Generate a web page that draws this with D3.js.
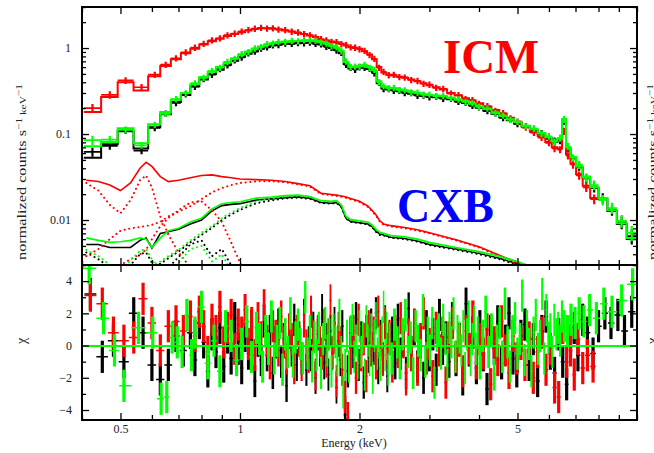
<!DOCTYPE html>
<html>
<head>
<meta charset="utf-8">
<script src="https://cdn.jsdelivr.net/npm/d3@7"></script>
<style>
  body { margin: 0; background: #fff; }
  svg { display: block; }
  text { font-family: "Liberation Serif", "Times New Roman", serif; }
</style>
</head>
<body>
<svg id="chart" width="654" height="453"></svg>
<script>
// ---- spectrum bins (keV) and counts ----
var specE = [0.425,0.47,0.515,0.565,0.61,0.65,0.69,0.73,0.77,0.81,
  0.85,0.89,0.93,0.97,1.01,1.05,1.09,1.13,1.17,1.21,
  1.25,1.30,1.35,1.40,1.45,1.50,1.55,1.60,1.65,1.70,
  1.75,1.80,1.85,1.90,1.95,2.00,2.06,2.12,2.18,2.24,
  2.30,2.37,2.44,2.52,2.60,2.70,2.80,2.90,3.00,3.12,
  3.25,3.40,3.55,3.70,3.85,4.00,4.20,4.40,4.60,4.80,
  5.00,5.25,5.50,5.75,6.00,6.20,6.40,6.55,6.70,6.90,
  7.15,7.45,7.80,8.20,8.65,9.15,9.70];

var blackModel = [0.053,0.076,0.108,0.068,0.12,0.17,0.235,0.285,0.36,0.43,
  0.50,0.56,0.64,0.71,0.79,0.86,0.92,0.98,1.03,1.07,
  1.10,1.12,1.13,1.14,1.15,1.15,1.13,1.10,1.05,1.00,
  0.95,0.87,0.65,0.58,0.57,0.59,0.60,0.57,0.52,0.39,
  0.34,0.33,0.325,0.315,0.305,0.295,0.285,0.277,0.272,0.267,
  0.262,0.253,0.24,0.23,0.216,0.202,0.188,0.172,0.157,0.145,
  0.133,0.122,0.111,0.10,0.09,0.081,0.086,0.145,0.068,0.053,
  0.041,0.031,0.0235,0.0175,0.0127,0.009,0.006];
var blackData = [0.062,0.073,0.111,0.064,0.118,0.173,0.23,0.29,0.355,0.437,
  0.49,0.57,0.63,0.72,0.78,0.87,0.91,0.99,1.02,1.08,
  1.09,1.13,1.12,1.15,1.14,1.16,1.12,1.11,1.04,1.01,
  0.94,0.88,0.64,0.59,0.56,0.60,0.59,0.58,0.51,0.395,
  0.335,0.335,0.32,0.32,0.30,0.30,0.28,0.281,0.268,0.271,
  0.258,0.257,0.237,0.233,0.213,0.205,0.185,0.175,0.154,0.148,
  0.131,0.124,0.109,0.102,0.088,0.083,0.084,0.142,0.069,0.052,
  0.042,0.0305,0.024,0.018,0.0132,0.0094,0.0065];

var redModel = [0.18,0.27,0.40,0.32,0.47,0.62,0.74,0.87,0.98,1.10,
  1.20,1.28,1.38,1.46,1.53,1.60,1.66,1.70,1.70,1.68,
  1.65,1.60,1.56,1.50,1.46,1.40,1.34,1.26,1.22,1.19,
  1.16,1.12,1.07,1.03,1.00,0.98,0.92,0.84,0.74,0.60,
  0.52,0.49,0.48,0.465,0.45,0.43,0.41,0.39,0.37,0.35,
  0.33,0.30,0.28,0.26,0.245,0.228,0.207,0.19,0.172,0.155,
  0.138,0.122,0.106,0.094,0.081,0.07,0.068,0.112,0.058,0.045,
  0.034,0.025,0.018,null,null,null,null];
var redData = [0.20,0.285,0.42,0.35,0.49,0.64,0.76,0.89,1.01,1.12,
  1.23,1.30,1.41,1.47,1.56,1.62,1.68,1.72,1.69,1.70,
  1.64,1.62,1.55,1.52,1.45,1.41,1.33,1.27,1.23,1.18,
  1.17,1.11,1.08,1.02,1.01,0.97,0.93,0.83,0.75,0.59,
  0.53,0.485,0.49,0.46,0.455,0.425,0.415,0.385,0.375,0.345,
  0.335,0.295,0.284,0.255,0.248,0.224,0.211,0.186,0.175,0.152,
  0.14,0.119,0.104,0.091,0.079,0.068,0.066,0.108,0.056,0.044,
  0.033,0.024,0.0175,null,null,null,null];

var greenModel = [0.072,0.081,0.117,0.078,0.13,0.18,0.25,0.30,0.38,0.46,
  0.53,0.60,0.68,0.76,0.84,0.91,0.98,1.04,1.10,1.14,
  1.17,1.19,1.20,1.21,1.22,1.23,1.21,1.17,1.12,1.06,
  1.01,0.93,0.69,0.61,0.60,0.62,0.63,0.60,0.55,0.41,
  0.355,0.345,0.34,0.33,0.32,0.31,0.30,0.29,0.285,0.28,
  0.275,0.265,0.25,0.24,0.225,0.21,0.195,0.178,0.162,0.149,
  0.137,0.125,0.114,0.103,0.092,0.083,0.088,0.15,0.07,0.054,
  0.042,0.032,0.024,0.018,0.013,0.0092,0.0062];
var greenData = [0.085,0.086,0.112,0.074,0.128,0.172,0.255,0.298,0.39,0.45,
  0.54,0.59,0.69,0.75,0.85,0.90,0.99,1.03,1.11,1.13,
  1.18,1.18,1.21,1.20,1.23,1.22,1.22,1.16,1.13,1.05,
  1.02,0.92,0.70,0.60,0.61,0.61,0.64,0.59,0.56,0.40,
  0.36,0.34,0.345,0.325,0.323,0.305,0.303,0.287,0.288,0.276,
  0.278,0.262,0.253,0.236,0.228,0.207,0.198,0.175,0.164,0.147,
  0.139,0.123,0.116,0.101,0.094,0.081,0.09,0.148,0.072,0.053,
  0.044,0.031,0.0255,0.0172,0.0138,0.0098,0.0071];

// fractional error of each spectral bin (as drawn)
var specErr = [0.12,0.10,0.09,0.09,0.085,0.085,0.085,0.085,0.085,0.085,
  0.085,0.085,0.085,0.085,0.085,0.085,0.085,0.085,0.085,0.085,
  0.085,0.085,0.085,0.085,0.085,0.085,0.085,0.085,0.085,0.085,
  0.085,0.085,0.085,0.085,0.085,0.085,0.085,0.085,0.085,0.085,
  0.085,0.085,0.085,0.085,0.085,0.085,0.085,0.085,0.085,0.085,
  0.085,0.085,0.085,0.085,0.085,0.085,0.085,0.085,0.085,0.085,
  0.085,0.085,0.09,0.09,0.09,0.095,0.095,0.095,0.10,0.10,
  0.11,0.12,0.13,0.14,0.15,0.17,0.20];

// ---- CXB model components ----
var cxbE = [0.41,0.44,0.47,0.50,0.53,0.56,0.58,0.60,0.63,0.66,
  0.70,0.75,0.80,0.85,0.90,0.95,1.0,1.1,1.2,1.3,
  1.4,1.5,1.6,1.7,1.75,1.8,1.85,1.9,2.0,2.1,
  2.15,2.2,2.25,2.3,2.4,2.6,2.8,3.0,3.5,4.0,
  4.5,5.0,5.5];

var cxbBlack = [0.0052,0.0052,0.0048,0.0048,0.0048,0.0058,0.0062,0.0047,0.007,0.0073,
  0.0078,0.009,0.0100,0.0128,0.0147,0.0152,0.0155,0.0171,0.0176,0.0182,
  0.0186,0.0179,0.016,0.0157,0.016,0.0143,0.0105,0.0096,0.0093,0.009,
  0.0084,0.0074,0.0069,0.0067,0.0063,0.0061,0.0057,0.0052,0.0046,0.0041,
  0.0036,0.0031,0.0027];
var blackPL = [0.0014,0.0016,0.0018,0.0019,0.0021,0.0024,0.0027,0.0029,0.0031,0.0036,
  0.0043,0.0055,0.0067,0.0081,0.01,0.0116,0.0131,0.0157,0.0169,0.0179,
  0.0182,0.0176,0.0158,0.0155,0.0158,0.0141,0.0104,0.0095,0.0092,0.0089,
  0.0083,0.0073,0.0067,0.0066,0.0062,0.006,0.0056,0.0051,0.0045,0.004,
  0.0035,0.003,0.0026];
var blackSoft = [0.0042,0.0035,0.0028,0.0024,0.003,0.004,0.0042,0.0032,0.0022,0.0015,0.0009,0.0005];
var blackHot = [0.0003,0.0004,0.0005,0.0006,0.0007,0.0008,0.001,0.0013,0.002,0.0028,
  0.0037,0.0052,0.0058,0.0038,0.0046,0.003,0.0018,0.0009,0.0004];

var cxbRed = [0.029,0.028,0.0255,0.022,0.027,0.040,0.047,0.042,0.032,0.028,
  0.029,0.031,0.033,0.0335,0.032,0.031,0.030,0.0295,0.029,0.028,
  0.0265,0.025,0.0205,0.0198,0.0195,0.019,0.0185,0.0178,0.0165,0.0145,
  0.013,0.0115,0.0098,0.009,0.0086,0.0082,0.0077,0.0071,0.0059,0.0049,
  0.0039,0.0032,0.0025];
var redPL = [0.0038,0.0046,0.006,0.0075,0.008,0.0083,0.0085,0.0088,0.0095,0.011,
  0.0125,0.0145,0.0175,0.021,0.0235,0.0255,0.027,0.0282,0.0283,0.0275,
  0.026,0.0245,0.0201,0.0194,0.0191,0.0186,0.0181,0.0174,0.0162,0.0142,
  0.0127,0.0113,0.0096,0.0088,0.0084,0.008,0.0075,0.007,0.0058,0.0048,
  0.0038,0.0031,0.0024];
var redSoft = [0.027,0.022,0.015,0.012,0.017,0.029,0.033,0.024,0.011,0.0068,0.0042,0.0028,0.0018,0.0012];
var redHot = [0.0015,0.002,0.0025,0.003,0.0035,0.004,0.0045,0.006,0.0085,0.0105,
  0.013,0.016,0.0165,0.013,0.0095,0.0055,0.0032,0.0015,0.0008,0.0004];

var cxbGreen = [0.0062,0.0058,0.0055,0.0056,0.0058,0.0062,0.006,0.0048,0.0062,0.0075,
  0.008,0.0095,0.0105,0.0135,0.0155,0.016,0.0163,0.018,0.0185,0.0192,
  0.0195,0.0188,0.0168,0.0165,0.0168,0.015,0.011,0.0101,0.0098,0.0095,
  0.0088,0.0078,0.0072,0.007,0.0066,0.0064,0.006,0.0055,0.0048,0.0043,
  0.0038,0.0033,0.0028];
var greenPL = [0.0015,0.0017,0.0019,0.002,0.0022,0.0025,0.0028,0.003,0.0033,0.0038,
  0.0045,0.0058,0.0071,0.0085,0.0105,0.0122,0.0138,0.0165,0.0178,0.0188,
  0.0192,0.0185,0.0166,0.0163,0.0166,0.0148,0.0109,0.01,0.0097,0.0094,
  0.0087,0.0077,0.0071,0.0069,0.0065,0.0063,0.0059,0.0054,0.0047,0.0042,
  0.0037,0.0032,0.0027];
var greenSoft = [0.0045,0.0038,0.003,0.0026,0.0034,0.0044,0.0046,0.0035,0.0024,0.0016,0.001,0.0006];
var greenHot = [0.0003,0.0004,0.0005,0.0006,0.0007,0.0008,0.001,0.0012,0.0018,0.0025,
  0.0032,0.0046,0.005,0.0033,0.004,0.0026,0.0016,0.0008,0.0004];

// ---- residuals (chi): black and red share one binning, green has its own ----
var resE = [0.42,0.45,0.48,0.51,0.54,0.57,0.60,0.63,0.66,0.69,0.72,0.75,
  0.77,0.79,0.81,0.83,0.85,0.87,0.89,0.91,0.93,0.95,0.97,0.99,
  1.01,1.03,1.05,1.07,1.09,1.11,1.13,1.15,1.17,1.19,1.21,1.23,1.25,1.27,1.29,1.31,1.33,1.35,1.37,1.39,
  1.41,1.43,1.45,1.47,1.49,1.51,1.53,1.55,1.57,1.59,1.61,1.63,1.65,1.67,1.69,1.71,1.73,1.75,1.77,1.79,
  1.81,1.84,1.87,1.90,1.93,1.96,1.99,2.02,2.05,2.08,2.11,2.14,2.17,2.20,2.23,2.26,2.29,2.32,2.35,2.38,
  2.42,2.46,2.50,2.54,2.58,2.62,2.66,2.70,2.75,2.80,2.85,2.90,2.95,3.00,3.06,3.12,3.18,3.24,3.30,3.36,
  3.43,3.50,3.57,3.64,3.71,3.78,3.86,3.94,4.02,4.10,4.19,4.28,4.37,4.46,4.56,4.66,4.76,4.87,4.98,5.10,
  5.22,5.35,5.48,5.62,5.76,5.90,6.05,6.20,6.35,6.50,6.65,6.80,6.95,7.10,7.30,7.50,7.75,8.00,8.30,8.60,8.95,9.30,9.70];

var blackChi = [3.2,-0.7,0.3,-1.0,2.0,0.8,-1.2,-2.1,-1.2,0.6,-0.3,0.8,
  -0.9,1.4,0.2,-1.6,0.7,-0.4,1.1,-1.3,0.5,-0.8,1.7,-0.2,
  -1.4,0.6,-0.5,1.2,-2.2,0.3,-0.9,1.5,-0.6,0.9,-1.7,0.2,1.3,-1.0,0.4,-2.5,0.8,-0.3,1.6,-1.2,
  0.5,-0.8,1.9,-1.5,0.2,-0.6,1.1,-2.0,0.7,-0.3,2.2,-1.1,0.4,-1.8,0.9,-0.5,1.4,-2.6,0.3,-0.9,
  1.2,-4.3,-1.6,0.8,-0.4,1.7,-1.2,0.5,-2.3,0.9,-0.7,1.3,-0.2,2.0,-1.4,0.6,-0.8,1.5,-1.9,0.4,
  0.8,-1.1,1.6,-0.5,0.3,-1.7,2.3,-0.4,0.9,-1.3,0.2,-2.0,1.2,-0.6,0.7,-1.5,1.9,-0.2,0.5,-1.0,
  1.7,-0.9,0.4,-2.1,2.6,-0.3,0.8,-1.4,1.2,-0.6,-2.7,0.9,-0.2,1.5,-1.1,0.3,2.0,-0.8,-1.6,0.6,
  1.3,-1.2,0.4,-2.2,0.9,1.8,-0.5,-1.7,0.7,-1.0,-2.4,0.3,1.1,-0.6,1.6,0.8,-0.5,1.2,2.0,1.4,1.9,0.9,2.1];
var redChi = [3.1,2.6,0.8,0.3,0.5,2.9,1.4,-0.3,1.2,1.5,0.9,1.8,
  0.6,2.1,1.2,-0.4,1.6,0.9,2.4,0.2,1.1,1.9,-0.2,1.3,
  0.8,2.2,0.1,1.4,-0.6,1.7,0.5,2.5,0.3,-1.1,1.2,0.6,-0.3,1.8,0.2,-0.8,1.0,0.4,-1.4,0.9,
  0.3,-1.2,1.5,0.0,-0.7,2.1,0.6,-1.8,0.9,0.2,-0.5,1.3,-1.0,0.7,2.8,-0.4,0.5,-2.2,1.1,0.2,
  -1.5,-3.2,-4.5,-0.8,0.9,-2.0,1.6,-0.6,0.4,-1.9,1.2,-0.3,0.8,-1.1,2.1,0.3,-0.9,1.4,-0.2,0.6,
  -1.3,0.9,-0.4,1.7,0.2,-2.1,0.7,-0.6,1.3,-1.5,0.4,2.0,-0.8,0.1,-1.9,1.1,-0.3,0.8,-2.3,0.5,
  1.4,-0.7,0.3,-1.6,0.9,-0.2,1.8,-1.1,0.4,-0.5,1.0,-2.4,0.2,-0.9,1.5,-0.3,-1.7,0.6,-0.8,0.1,
  -1.2,0.5,-2.0,-0.4,0.8,-1.5,-0.2,-2.6,-3.2,1.1,-1.0,-0.3,-1.8,0.4,-1.4,-0.6,-1.3,null,null,null,null,null,null];

var greenResE = [0.417,0.453,0.483,0.51,0.555,0.603,0.633,0.654,0.675,0.695,0.715,0.735,0.755,
  0.77,0.80,0.83,0.86,0.89,0.92,0.95,0.98,1.01,1.04,1.07,1.10,
  1.12,1.14,1.16,1.18,1.20,1.22,1.24,1.26,1.28,1.30,1.32,1.34,1.36,1.38,
  1.40,1.42,1.44,1.46,1.48,1.50,1.52,1.54,1.56,1.58,1.60,1.62,1.64,1.66,1.68,1.70,1.72,1.74,1.76,1.78,
  1.80,1.82,1.84,1.86,1.88,1.90,1.92,1.94,1.96,1.98,2.00,2.02,2.04,2.06,2.08,2.10,2.12,2.14,2.16,2.18,
  2.20,2.22,2.24,2.26,2.28,2.30,2.32,2.34,2.36,2.38,
  2.41,2.45,2.49,2.53,2.57,2.61,2.65,2.69,2.73,2.77,2.81,2.85,2.89,2.93,2.97,3.01,3.05,3.09,3.13,3.17,
  3.21,3.25,3.29,3.33,3.37,3.41,3.45,3.49,3.53,3.57,3.61,3.65,3.69,3.73,3.77,3.81,3.85,3.89,3.93,3.97,
  4.02,4.09,4.16,4.23,4.30,4.37,4.44,4.51,4.58,4.65,4.72,4.79,4.86,4.93,5.00,5.07,5.14,5.21,
  5.28,5.35,5.42,5.49,5.56,5.63,5.70,5.77,5.84,5.91,5.98,6.05,6.12,6.19,6.26,6.33,6.40,6.47,
  6.56,6.68,6.82,6.98,7.15,7.35,7.60,7.90,8.25,8.65,9.15,9.75];
var greenChi = [4.8,1.7,-0.3,-2.5,1.1,0.8,-3.3,-3.2,0.5,0.2,-0.4,1.9,-0.6,
  0.8,2.4,-1.1,0.3,-1.6,1.2,0.6,-0.9,0.1,1.5,-0.7,1.1,
  0.4,-1.3,0.9,-0.2,1.8,-0.8,0.3,1.4,-1.5,0.7,-0.4,2.0,-1.0,0.5,
  1.3,0.1,-0.8,3.0,-0.5,0.9,-1.3,0.5,-0.6,1.1,-1.7,0.4,1.4,-0.3,0.7,-1.6,1.0,0.2,-0.9,1.9,
  -0.4,-2.9,-1.2,0.6,-1.3,0.9,1.6,-0.7,0.3,-1.1,1.2,-0.4,0.5,-1.8,1.5,0.3,-0.9,1.0,-2.0,0.6,
  1.7,-0.5,0.2,-1.2,0.8,2.4,-0.6,1.1,-1.5,0.4,
  -0.8,1.3,0.2,-1.1,0.7,1.9,-0.4,0.5,-1.7,1.2,0.3,-0.6,2.2,-1.0,0.8,-0.3,1.4,-2.3,0.6,1.0,
  -0.5,1.6,0.4,-1.2,1.1,0.2,2.0,-0.7,0.9,0.5,-0.3,1.2,-1.4,0.7,1.8,-0.9,0.4,1.5,-0.2,0.8,
  -1.1,0.6,2.1,-0.4,1.0,-1.8,0.3,1.4,-0.7,2.6,0.2,-1.3,0.9,1.7,-0.5,0.4,3.1,-0.9,
  1.2,0.1,-1.6,0.8,1.9,-0.2,0.6,3.2,-0.8,2.2,0.5,1.0,-0.4,1.6,0.7,1.1,0.3,1.8,
  1.2,0.9,1.6,1.4,2.0,1.5,2.2,1.7,2.6,2.1,2.8,3.8];

var energyTickLabels = [0.5, 1, 2, 5];
var countTickLabels = [0.01, 0.1, 1];
var chiTickLabels = [-4, -2, 0, 2, 4];

// ---- layout ----
var svg = d3.select("#chart");
var left = 82, right = 637, top1 = 7, bot1 = 265, bot2 = 420;

var x = d3.scaleLog().domain([0.4, 10]).range([left, right]);
var y1 = d3.scaleLog().domain([0.003, 3]).range([bot1, top1]);
var y2 = d3.scaleLinear().domain([-4.62, 5]).range([bot2, bot1]);

var defs = svg.append("defs");
defs.append("clipPath").attr("id", "clipTop").append("rect")
  .attr("x", left).attr("y", top1).attr("width", right - left).attr("height", bot1 - top1);
defs.append("clipPath").attr("id", "clipBot").append("rect")
  .attr("x", left).attr("y", bot1).attr("width", right - left).attr("height", bot2 - bot1);

// bin edges, half way (in log) between neighbouring centres
function binEdges(c) {
  return c.map(function (e, i) {
    var lo = i > 0 ? Math.sqrt(c[i - 1] * e) : e * e / Math.sqrt(e * c[i + 1]);
    var hi = i < c.length - 1 ? Math.sqrt(e * c[i + 1]) : e * e / Math.sqrt(c[i - 1] * e);
    return [lo, hi];
  });
}
var specBins = binEdges(specE);

var gTop = svg.append("g").attr("clip-path", "url(#clipTop)");
var gBot = svg.append("g").attr("clip-path", "url(#clipBot)");

function drawData(g, vals, color) {
  var h = "", v2 = "";
  vals.forEach(function (v, i) {
    if (v == null) return;
    var b = specBins[i];
    h += "M" + x(b[0]) + "," + y1(v) + "H" + x(b[1]);
    v2 += "M" + x(specE[i]) + "," + y1(v * (1 + specErr[i])) + "V" + y1(v * (1 - specErr[i]));
  });
  g.append("path").attr("d", h).attr("fill", "none").attr("stroke", color).attr("stroke-width", 1.7);
  g.append("path").attr("d", v2).attr("fill", "none").attr("stroke", color).attr("stroke-width", 2.2);
}

function drawModel(g, vals, color) {
  var pts = [];
  vals.forEach(function (v, i) {
    pts.push({ e: specBins[i][0], v: v });
    pts.push({ e: specBins[i][1], v: v });
  });
  var line = d3.line().defined(function (d) { return d.v != null; })
    .x(function (d) { return x(d.e); }).y(function (d) { return y1(d.v); });
  g.append("path").attr("d", line(pts)).attr("fill", "none")
    .attr("stroke", color).attr("stroke-width", 2);
}

function drawComp(g, vals, color, dotted) {
  var pts = vals.map(function (v, i) { return { e: cxbE[i], v: v }; });
  var line = d3.line().x(function (d) { return x(d.e); }).y(function (d) { return y1(d.v); });
  var path = g.append("path").attr("d", line(pts)).attr("fill", "none").attr("stroke", color);
  if (dotted) {
    path.attr("stroke-width", 2).attr("stroke-dasharray", "0.1 4.6").attr("stroke-linecap", "round");
  } else {
    path.attr("stroke-width", 1.6);
  }
}

// chi crosses; the vertical bar width follows the bin width so dense bins merge
function drawChi(g, grid, vals, color, fill) {
  var bins = binEdges(grid), h = "";
  vals.forEach(function (v, i) {
    if (v == null) return;
    var b = bins[i];
    var w = Math.max(1.5, Math.min(3.2, (x(b[1]) - x(b[0])) * fill));
    h += "M" + x(b[0]) + "," + y2(v) + "H" + x(b[1]);
    g.append("line").attr("x1", x(grid[i])).attr("x2", x(grid[i]))
      .attr("y1", y2(v + 1)).attr("y2", y2(v - 1))
      .attr("stroke", color).attr("stroke-width", w);
  });
  g.append("path").attr("d", h).attr("fill", "none").attr("stroke", color).attr("stroke-width", 1.5);
}

var sets = [
  { c: "#000000", data: blackData, model: blackModel, cxb: cxbBlack, pl: blackPL, soft: blackSoft, hot: blackHot, re: resE, chi: blackChi, f: 0.9 },
  { c: "#ff0000", data: redData, model: redModel, cxb: cxbRed, pl: redPL, soft: redSoft, hot: redHot, re: resE, chi: redChi, f: 0.9 },
  { c: "#00ff00", data: greenData, model: greenModel, cxb: cxbGreen, pl: greenPL, soft: greenSoft, hot: greenHot, re: greenResE, chi: greenChi, f: 1.0 }
];

var zeroY = Math.round(y2(0));
sets.forEach(function (s) {
  drawData(gTop, s.data, s.c);
  drawModel(gTop, s.model, s.c);
  drawComp(gTop, s.cxb, s.c, false);
  drawComp(gTop, s.pl, s.c, true);
  drawComp(gTop, s.soft, s.c, true);
  drawComp(gTop, s.hot, s.c, true);
  drawChi(gBot, s.re, s.chi, s.c, s.f);
  gBot.append("line").attr("x1", left).attr("x2", right)
    .attr("y1", zeroY).attr("y2", zeroY).attr("stroke", s.c).attr("stroke-width", 2);
});

// ---- axes: ticks inside on every edge ----
function tickAxis(axis, scale, vals, size, tx, ty) {
  var g = svg.append("g").attr("transform", "translate(" + tx + "," + ty + ")")
    .call(axis(scale).tickValues(vals).tickSize(size).tickFormat(""));
  g.select(".domain").remove();
  g.selectAll("line").attr("stroke", "#000").attr("stroke-width", 1.3);
}

var eMinor = x.ticks().filter(function (d) { return energyTickLabels.indexOf(d) < 0; });
var cMinor = y1.ticks().filter(function (d) { return countTickLabels.indexOf(d) < 0; });
var chiMinor = y2.ticks(10).filter(function (d) { return chiTickLabels.indexOf(d) < 0; });

tickAxis(d3.axisBottom, x, energyTickLabels, 7, 0, top1);
tickAxis(d3.axisBottom, x, eMinor, 5, 0, top1);
tickAxis(d3.axisTop, x, energyTickLabels, 7, 0, bot1);
tickAxis(d3.axisTop, x, eMinor, 5, 0, bot1);
tickAxis(d3.axisBottom, x, energyTickLabels, 7, 0, bot1);
tickAxis(d3.axisBottom, x, eMinor, 5, 0, bot1);
tickAxis(d3.axisTop, x, energyTickLabels, 7, 0, bot2);
tickAxis(d3.axisTop, x, eMinor, 5, 0, bot2);

tickAxis(d3.axisRight, y1, countTickLabels, 7, left, 0);
tickAxis(d3.axisRight, y1, cMinor, 4, left, 0);
tickAxis(d3.axisLeft, y1, countTickLabels, 7, right, 0);
tickAxis(d3.axisLeft, y1, cMinor, 4, right, 0);
tickAxis(d3.axisRight, y2, chiTickLabels, 7, left, 0);
tickAxis(d3.axisRight, y2, chiMinor, 4, left, 0);
tickAxis(d3.axisLeft, y2, chiTickLabels, 7, right, 0);
tickAxis(d3.axisLeft, y2, chiMinor, 4, right, 0);

// frame
svg.append("rect").attr("x", left).attr("y", top1).attr("width", right - left).attr("height", bot2 - top1)
  .attr("fill", "none").attr("stroke", "#000").attr("stroke-width", 2);
svg.append("line").attr("x1", left).attr("x2", right).attr("y1", bot1).attr("y2", bot1)
  .attr("stroke", "#000").attr("stroke-width", 2);

// tick labels
function labelAxis(axis, scale, vals, fmt, pad, tx, ty) {
  var g = svg.append("g").attr("transform", "translate(" + tx + "," + ty + ")")
    .call(axis(scale).tickValues(vals).tickSize(0).tickPadding(pad).tickFormat(fmt));
  g.select(".domain").remove();
  g.selectAll("text").attr("font-family", "Liberation Serif").attr("font-size", 12).attr("fill", "#222");
}
labelAxis(d3.axisLeft, y1, countTickLabels, d3.format("~g"), 11, left, 0);
labelAxis(d3.axisLeft, y2, chiTickLabels, d3.format("d"), 10, left, 0);
labelAxis(d3.axisBottom, x, energyTickLabels, d3.format("~g"), 4, 0, bot2);

// axis titles (the right-hand copies are cut by the window edge, as in the original)
function yTitle(tx, ty, parts, size, len) {
  var t = svg.append("text").attr("transform", "translate(" + tx + "," + ty + ") rotate(-90)")
    .attr("text-anchor", "middle").attr("font-size", size).attr("fill", "#222");
  parts.forEach(function (p) {
    var ts = t.append("tspan").text(p[0]);
    if (p[1]) ts.attr("font-size", size * 0.7).attr("dy", p[1]);
  });
  if (len) t.attr("textLength", len).attr("lengthAdjust", "spacingAndGlyphs");
  return t;
}
var countTitle = [["normalized counts s"], ["\u22121", "-0.45em"], [" keV", "0.45em"], ["\u22121", "-0.45em"]];
yTitle(26, 172, countTitle, 13, 176);
yTitle(657, 172, countTitle, 13, 176);
yTitle(26, 341, [["\u03c7"]], 14);
yTitle(657, 341, [["\u03c7"]], 14);

svg.append("text").attr("x", 354).attr("y", 447).attr("text-anchor", "middle")
  .attr("font-size", 12).attr("fill", "#222").text("Energy (keV)");

// component labels
svg.append("text").attr("x", 443).attr("y", 73).attr("font-size", 49).attr("font-weight", "bold")
  .attr("fill", "#ff0000").attr("textLength", 96).attr("lengthAdjust", "spacingAndGlyphs").text("ICM");
svg.append("text").attr("x", 397).attr("y", 222).attr("font-size", 49).attr("font-weight", "bold")
  .attr("fill", "#0000ff").attr("textLength", 97).attr("lengthAdjust", "spacingAndGlyphs").text("CXB");
</script>
</body>
</html>
